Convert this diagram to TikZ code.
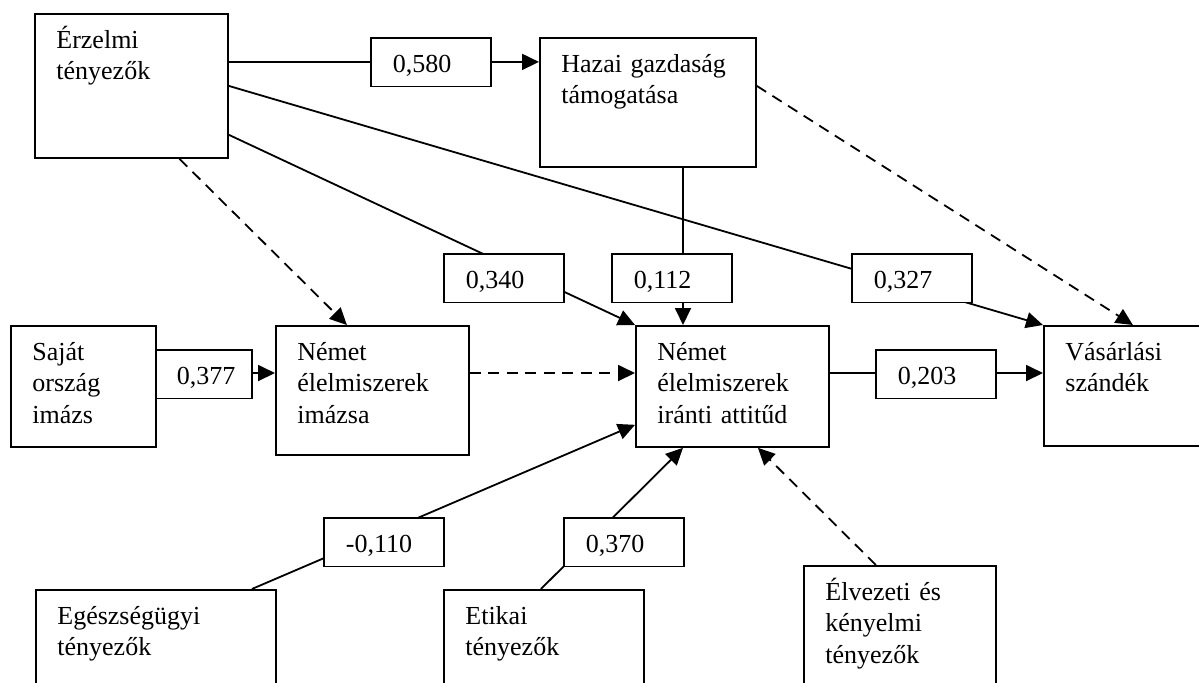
\documentclass[tikz,border=0pt]{standalone}
\usepackage{fontspec}
\setmainfont{Liberation Serif}
\usepackage{tikz}
\usetikzlibrary{arrows.meta}

\begin{document}
\begin{tikzpicture}[
    x=0.5pt, y=-0.5pt,
    font=\fontsize{13}{15.8}\selectfont,
    factor/.style 2 args={draw, line width=0.9pt, anchor=north west, inner sep=0pt, minimum width=#1*0.5pt, minimum height=#2*0.5pt},
    boxtext/.style={anchor=base west, inner sep=0pt, align=left, text width=4cm},
    coef/.style={draw, line width=0.9pt, fill=white, anchor=north west, inner xsep=11pt, inner ysep=0pt, text width=38pt, text height=17.5pt, text depth=6.75pt},
    path/.style={line width=0.9pt, -{Triangle[length=8.5pt, width=8pt]}},
    weak/.style={path, dash pattern=on 5.5pt off 3.75pt}
]
\useasboundingbox (0,0) rectangle (1199,682);
\clip (0,0) rectangle (1199,682);

% Factors
\node[factor={193}{144}] (erz) at (34,13) {};
\node[factor={216}{129}] (hazai) at (539,37) {};
\node[factor={145}{121}] (sajat) at (10,325) {};
\node[factor={193}{129}] (imazs) at (275,325) {};
\node[factor={193}{121}] (attitud) at (635,325) {};
\node[factor={200}{120}] (vasar) at (1043,325) {};
\node[factor={240}{120}] (egesz) at (35,589) {};
\node[factor={200}{120}] (etikai) at (443,589) {};
\node[factor={192}{150}] (elvez) at (803,565) {};

\node[boxtext] (erzT) at ([shift={(22,35)}]erz.north west) {Érzelmi\\tényezők};
\node[boxtext] (hazaiT) at ([shift={(22,35)}]hazai.north west) {Hazai gazdaság\\támogatása};
\node[boxtext] (sajatT) at ([shift={(22,35)}]sajat.north west) {Saját\\ország\\imázs};
\node[boxtext] (imazsT) at ([shift={(22,35)}]imazs.north west) {Német\\élelmiszerek\\imázsa};
\node[boxtext] (attitudT) at ([shift={(22,35)}]attitud.north west) {Német\\élelmiszerek\\iránti attitűd};
\node[boxtext] (vasarT) at ([shift={(22,35)}]vasar.north west) {Vásárlási\\szándék};
\node[boxtext] (egeszT) at ([shift={(22,35)}]egesz.north west) {Egészségügyi\\tényezők};
\node[boxtext] (etikaiT) at ([shift={(22,35)}]etikai.north west) {Etikai\\tényezők};
\node[boxtext] (elvezT) at ([shift={(22,35)}]elvez.north west) {Élvezeti és\\kényelmi\\tényezők};

\coordinate (row) at (0,373);
\coordinate (col) at (683,0);

% Paths
\draw[path] ([yshift=12pt]erz.east) -- ([yshift=12pt]erz.east -| hazai.west);
\draw[path] (erz.east) -- (vasar.north west);
\draw[path] ([yshift=12pt]erz.south east) -- (attitud.north west);
\draw[weak] ([xshift=24pt]erz.south) -- ([xshift=-12.75pt]imazs.north);
\draw[weak] ([yshift=8.25pt]hazai.east) -- ([xshift=-5.5pt]vasar.north);
\draw[path] (hazai.south -| col) -- (attitud.north -| col);
\draw[path] (sajat.east |- row) -- (imazs.west |- row);
\draw[weak] (imazs.east |- row) -- (attitud.west |- row);
\draw[path] (attitud.east |- row) -- (vasar.west |- row);
\draw[path] ([xshift=48pt]egesz.north) -- ([yshift=11.5pt]attitud.south west);
\draw[path] ([xshift=-1.5pt]etikai.north) -- (attitud.south -| col);
\draw[weak] ([xshift=-12pt]elvez.north) -- ([xshift=12.75pt]attitud.south);

% Coefficients
\node[coef] (c580) at (370,37) {0,580};
\node[coef] (c340) at (443,253) {0,340};
\node[coef] (c112) at (611,253) {0,112};
\node[coef] (c327) at (851,253) {0,327};
\node[coef, text width=27pt, inner xsep=10.5pt] (c377) at (155,349) {0,377};
\node[coef] (c203) at (875,349) {0,203};
\node[coef] (c110) at (323,517) {-0,110};
\node[coef] (c370) at (563,517) {0,370};
\end{tikzpicture}
\end{document}
